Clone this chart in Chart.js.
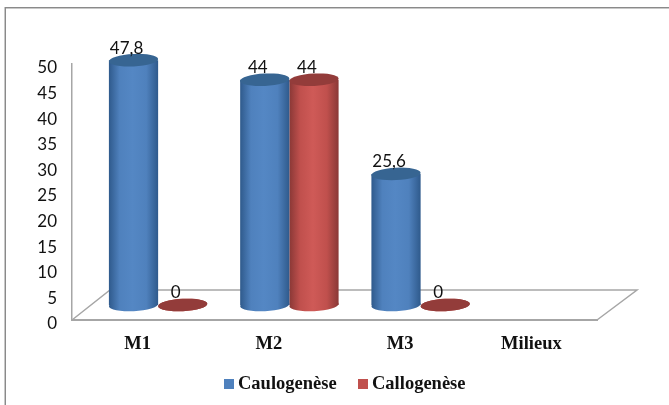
<!DOCTYPE html>
<html><head><meta charset="utf-8">
<style>html,body{margin:0;padding:0;background:#fff}#w{position:relative;width:669px;height:405px;overflow:hidden}
#w:before{content:"";position:absolute;left:5px;top:7px;width:700px;height:420px;border:1px solid #8a8a8a;box-shadow:-1px 0 0 #c8c8c8,inset 0 1px 0 #c8c8c8;box-sizing:border-box}
canvas{position:absolute;left:0;top:0}</style>
<script src="https://cdn.jsdelivr.net/npm/chart.js@4/dist/chart.umd.min.js"></script>
</head><body><div id="w"><canvas id="c" width="669" height="405"></canvas></div>
<script>
const categories = ["M1","M2","M3","Milieux"];
const caulogenese = [47.8,44,25.6,null];
const callogenese = [0,44,0,null];
const yTicks = [0,5,10,15,20,25,30,35,40,45,50];
const DX=20.5, DY=-15, RY=6.2, TILT=-0.05;
const pal=[{e:"#2f5a8c",m:"#4f81bd",c:"#5487c4",top:"#376592",box:"#4f81bd"},{e:"#8a3836",m:"#c0504d",c:"#cf5a57",top:"#933c3a",box:"#c0504d"}];
function grad(ctx,x0,x1,p){const g=ctx.createLinearGradient(x0,0,x1,0);
 g.addColorStop(0,p.e);g.addColorStop(.22,p.m);g.addColorStop(.48,p.c);g.addColorStop(.76,p.m);g.addColorStop(1,p.e);return g;}
const cyl={id:"cyl",
 beforeDatasetsDraw(ch){const c=ch.ctx,a=ch.chartArea;c.save();c.strokeStyle="#a6a6a6";c.lineWidth=1.5;
  c.beginPath();c.moveTo(a.left,a.bottom);c.lineTo(a.left+38,a.bottom-30);c.lineTo(a.right+40,a.bottom-30);c.lineTo(a.right,a.bottom);c.stroke();c.restore();},
 beforeDatasetDraw(ch,{index}){const c=ch.ctx;c.save();c.translate(DX,DY);
  ch.getDatasetMeta(index).data.forEach(el=>{if(el.skip)return;const w=el.width;
   el.options=Object.assign({},el.options,{backgroundColor:grad(c,el.x-w/2,el.x+w/2,pal[index])});});},
 afterDatasetDraw(ch,{index}){const c=ch.ctx,ds=ch.data.datasets[index];
  ch.getDatasetMeta(index).data.forEach((el,i)=>{if(ds.data[i]==null)return;const w=el.width,b=ch.scales.y.getPixelForValue(0);
   c.fillStyle=grad(c,el.x-w/2,el.x+w/2,pal[index]);c.beginPath();c.ellipse(el.x,b,w/2,RY,TILT,0,Math.PI*2);c.fill();
   c.fillStyle=pal[index].top;c.beginPath();c.ellipse(el.x,el.y,w/2,RY,TILT,0,Math.PI*2);c.fill();
  });
  c.restore();},
 afterDatasetsDraw(ch){const c=ch.ctx;c.save();c.fillStyle="#111";c.font='17px "Lato"';c.textAlign="center";c.textBaseline="middle";
  ch.data.datasets.forEach((ds,d)=>ch.getDatasetMeta(d).data.forEach((el,i)=>{if(ds.data[i]==null)return;
   c.fillText(String(ds.data[i]).replace(".",","),el.x+DX-7,el.y+DY-12);}));
  c.font='bold 18.5px "Liberation Serif"';c.textAlign="left";
  const lx=[224,358];
  ch.data.datasets.forEach((ds,d)=>{c.fillStyle=pal[d].box;c.fillRect(lx[d],379,10,10);c.fillStyle="#111";c.fillText(ds.label,lx[d]+14,384);});
  c.restore();}
};
new Chart(document.getElementById("c"),{type:"bar",plugins:[cyl],
 data:{labels:categories,datasets:[
  {label:"Caulogenèse",data:caulogenese,backgroundColor:"#4f81bd",clip:false},
  {label:"Callogenèse",data:callogenese,backgroundColor:"#c0504d",clip:false}]},
 options:{responsive:false,animation:false,events:[],
  categoryPercentage:.75,barPercentage:1,
  layout:{padding:{left:0,right:72,top:64,bottom:45}},
  plugins:{tooltip:{enabled:false},legend:{display:false}},
  scales:{
   x:{offset:true,grid:{display:false},border:{color:"#a6a6a6",width:2},afterFit(s){s.height=40;},
      ticks:{color:"#111",padding:5,maxRotation:0,font:{family:"Liberation Serif",weight:"bold",size:18.5}}},
   y:{min:0,max:50,afterFit(s){s.width=72;},afterBuildTicks(s){s.ticks=yTicks.map(v=>({value:v}));},grid:{display:false},border:{color:"#a6a6a6",width:1.5},
      ticks:{color:"#111",padding:7,autoSkip:false,callback:v=>["",String(v)],font:{family:"Lato",size:17,lineHeight:"8px"}}}
  }}});
</script></body></html>
